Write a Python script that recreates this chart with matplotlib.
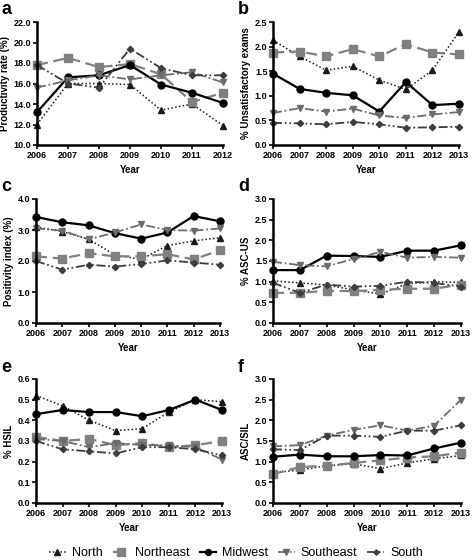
import matplotlib
matplotlib.use("Agg")
import matplotlib.pyplot as plt
import numpy as np

plt.rcParams['font.family'] = ['Liberation Sans', 'DejaVu Sans']

years_a = [2006, 2007, 2008, 2009, 2010, 2011, 2012]
years = [2006, 2007, 2008, 2009, 2010, 2011, 2012, 2013]
regions = ["North", "Northeast", "Midwest", "Southeast", "South"]

# Panel a: Productivity rate (%)
a_north = [12.0, 16.0, 16.0, 15.9, 13.4, 14.0, 11.9]
a_northeast = [17.8, 18.5, 17.6, 17.9, 16.9, 14.2, 15.1]
a_midwest = [13.2, 16.6, 16.8, 17.8, 15.9, 15.1, 14.1]
a_southeast = [15.6, 16.3, 16.8, 16.4, 16.8, 17.1, 16.1]
a_south = [17.8, 16.0, 15.6, 19.4, 17.5, 16.8, 16.8]

# Panel b: % Unsatisfactory exams
b_north = [2.13, 1.80, 1.52, 1.60, 1.32, 1.13, 1.52, 2.30]
b_northeast = [1.88, 1.90, 1.80, 1.95, 1.80, 2.05, 1.88, 1.84]
b_midwest = [1.45, 1.14, 1.06, 1.01, 0.68, 1.28, 0.81, 0.84]
b_southeast = [0.65, 0.75, 0.68, 0.74, 0.60, 0.55, 0.62, 0.67]
b_south = [0.45, 0.44, 0.42, 0.47, 0.42, 0.35, 0.36, 0.37]

# Panel c: Positivity index (%)
c_north = [3.10, 2.95, 2.70, 2.20, 2.05, 2.50, 2.65, 2.75]
c_northeast = [2.15, 2.08, 2.25, 2.15, 2.15, 2.22, 2.05, 2.35]
c_midwest = [3.42, 3.25, 3.15, 2.90, 2.72, 2.92, 3.45, 3.28]
c_southeast = [3.05, 2.98, 2.70, 2.92, 3.18, 3.00, 2.98, 3.05]
c_south = [2.00, 1.72, 1.88, 1.82, 1.90, 2.02, 1.95, 1.88]

# Panel d: % ASC-US
d_north = [1.02, 0.97, 0.92, 0.80, 0.70, 0.95, 1.00, 0.98]
d_northeast = [0.73, 0.73, 0.78, 0.77, 0.80, 0.83, 0.83, 0.93]
d_midwest = [1.28, 1.28, 1.63, 1.62, 1.60, 1.75, 1.75, 1.88]
d_southeast = [1.48, 1.40, 1.37, 1.55, 1.72, 1.58, 1.60, 1.58]
d_south = [0.97, 0.73, 0.93, 0.88, 0.90, 1.00, 0.97, 0.88]

# Panel e: % HSIL
e_north = [0.52, 0.47, 0.40, 0.35, 0.36, 0.44, 0.50, 0.49]
e_northeast = [0.32, 0.30, 0.31, 0.28, 0.29, 0.27, 0.28, 0.30]
e_midwest = [0.43, 0.45, 0.44, 0.44, 0.42, 0.45, 0.50, 0.45]
e_southeast = [0.31, 0.30, 0.27, 0.29, 0.28, 0.28, 0.27, 0.21]
e_south = [0.30, 0.26, 0.25, 0.24, 0.27, 0.27, 0.26, 0.23]

# Panel f: ASC/SIL
f_north = [0.73, 0.80, 0.90, 0.95, 0.83, 0.97, 1.07, 1.15]
f_northeast = [0.70, 0.87, 0.90, 0.97, 1.03, 1.10, 1.13, 1.22]
f_midwest = [1.12, 1.17, 1.13, 1.13, 1.16, 1.15, 1.32, 1.46]
f_southeast = [1.37, 1.40, 1.63, 1.77, 1.88, 1.75, 1.87, 2.50]
f_south = [1.30, 1.28, 1.63, 1.63, 1.60, 1.75, 1.75, 1.88]

styles = {
    "North": dict(color="#1a1a1a", ls=(0, (1, 1.5)), marker="^", ms=4.5, lw=1.1),
    "Northeast": dict(color="#808080", ls=(0, (5, 2.5)), marker="s", ms=6, lw=1.6),
    "Midwest": dict(color="#000000", ls="-", marker="o", ms=5, lw=1.6),
    "Southeast": dict(color="#6b6b6b", ls=(0, (5, 1.5, 1, 1.5)), marker="v", ms=5, lw=1.3),
    "South": dict(color="#3d3d3d", ls=(0, (5, 1.5, 1, 1.5, 1, 1.5)), marker="D", ms=3.2, lw=1.3),
}

W, H = 472, 560
fig = plt.figure(figsize=(W / 100, H / 100), dpi=100)

def add_ax(x0, x1, ytop, ybot):
    return fig.add_axes([x0 / W, 1 - ybot / H, (x1 - x0) / W, (ybot - ytop) / H])

panels = [
    ("a", years_a, [a_north, a_northeast, a_midwest, a_southeast, a_south],
     "Productivity rate (%)", (10, 22), np.arange(10, 22.1, 2), "%.1f", (37, 223, 22, 145)),
    ("b", years, [b_north, b_northeast, b_midwest, b_southeast, b_south],
     "% Unsatisfactory exams", (0, 2.5), np.arange(0, 2.51, 0.5), "%.1f", (273, 459, 22, 145)),
    ("c", years, [c_north, c_northeast, c_midwest, c_southeast, c_south],
     "Positivity index (%)", (0, 4), np.arange(0, 4.01, 1), "%.1f", (36, 220, 199, 323)),
    ("d", years, [d_north, d_northeast, d_midwest, d_southeast, d_south],
     "% ASC-US", (0, 3), np.arange(0, 3.01, 0.5), "%.1f", (273, 461, 199, 323)),
    ("e", years, [e_north, e_northeast, e_midwest, e_southeast, e_south],
     "% HSIL", (0, 0.6), np.arange(0, 0.61, 0.1), "%.1f", (36, 222, 379, 503)),
    ("f", years, [f_north, f_northeast, f_midwest, f_southeast, f_south],
     "ASC/SIL", (0, 3), np.arange(0, 3.01, 0.5), "%.1f", (273, 461, 379, 503)),
]

handles = []
for label, xs, series, ylab, ylim, yticks, fmt, box in panels:
    ax = add_ax(box[0], box[1], box[2], box[3])
    hs = []
    for name, vals in zip(regions, series):
        st = styles[name]
        h, = ax.plot(xs, vals, color=st["color"], linestyle=st["ls"], lw=st["lw"],
                     marker=st["marker"], ms=st["ms"], mfc=st["color"], mec=st["color"],
                     label=name, clip_on=False)
        hs.append(h)
    handles = hs
    ax.set_xlim(xs[0], xs[-1])
    ax.set_ylim(*ylim)
    ax.set_xticks(xs)
    ax.set_xticklabels([str(y) for y in xs])
    ax.set_yticks(yticks)
    ax.set_yticklabels([fmt % t for t in yticks])
    for s in ["top", "right"]:
        ax.spines[s].set_visible(False)
    for s in ["left", "bottom"]:
        ax.spines[s].set_linewidth(1.8)
    ax.tick_params(axis="both", labelsize=6.5, width=1.2, length=3, pad=1)
    for t in ax.get_xticklabels() + ax.get_yticklabels():
        t.set_fontweight("bold")
    ax.set_ylabel(ylab, fontsize=7, fontweight="bold", labelpad=3)
    ax.set_xlabel("Year", fontsize=7, fontweight="bold", labelpad=4)
    fig.text((box[0] - 35) / W, 1 - (box[2] - 12) / H, label, fontsize=13,
             fontweight="bold", ha="left", va="center")

fig.legend(handles, regions, loc="center", bbox_to_anchor=(0.5, 1 - 553 / H),
           ncol=5, frameon=False, fontsize=9, handlelength=1.3, handletextpad=0.5,
           columnspacing=0.8, markerscale=0.85)

fig.savefig("out.png", dpi=100)
